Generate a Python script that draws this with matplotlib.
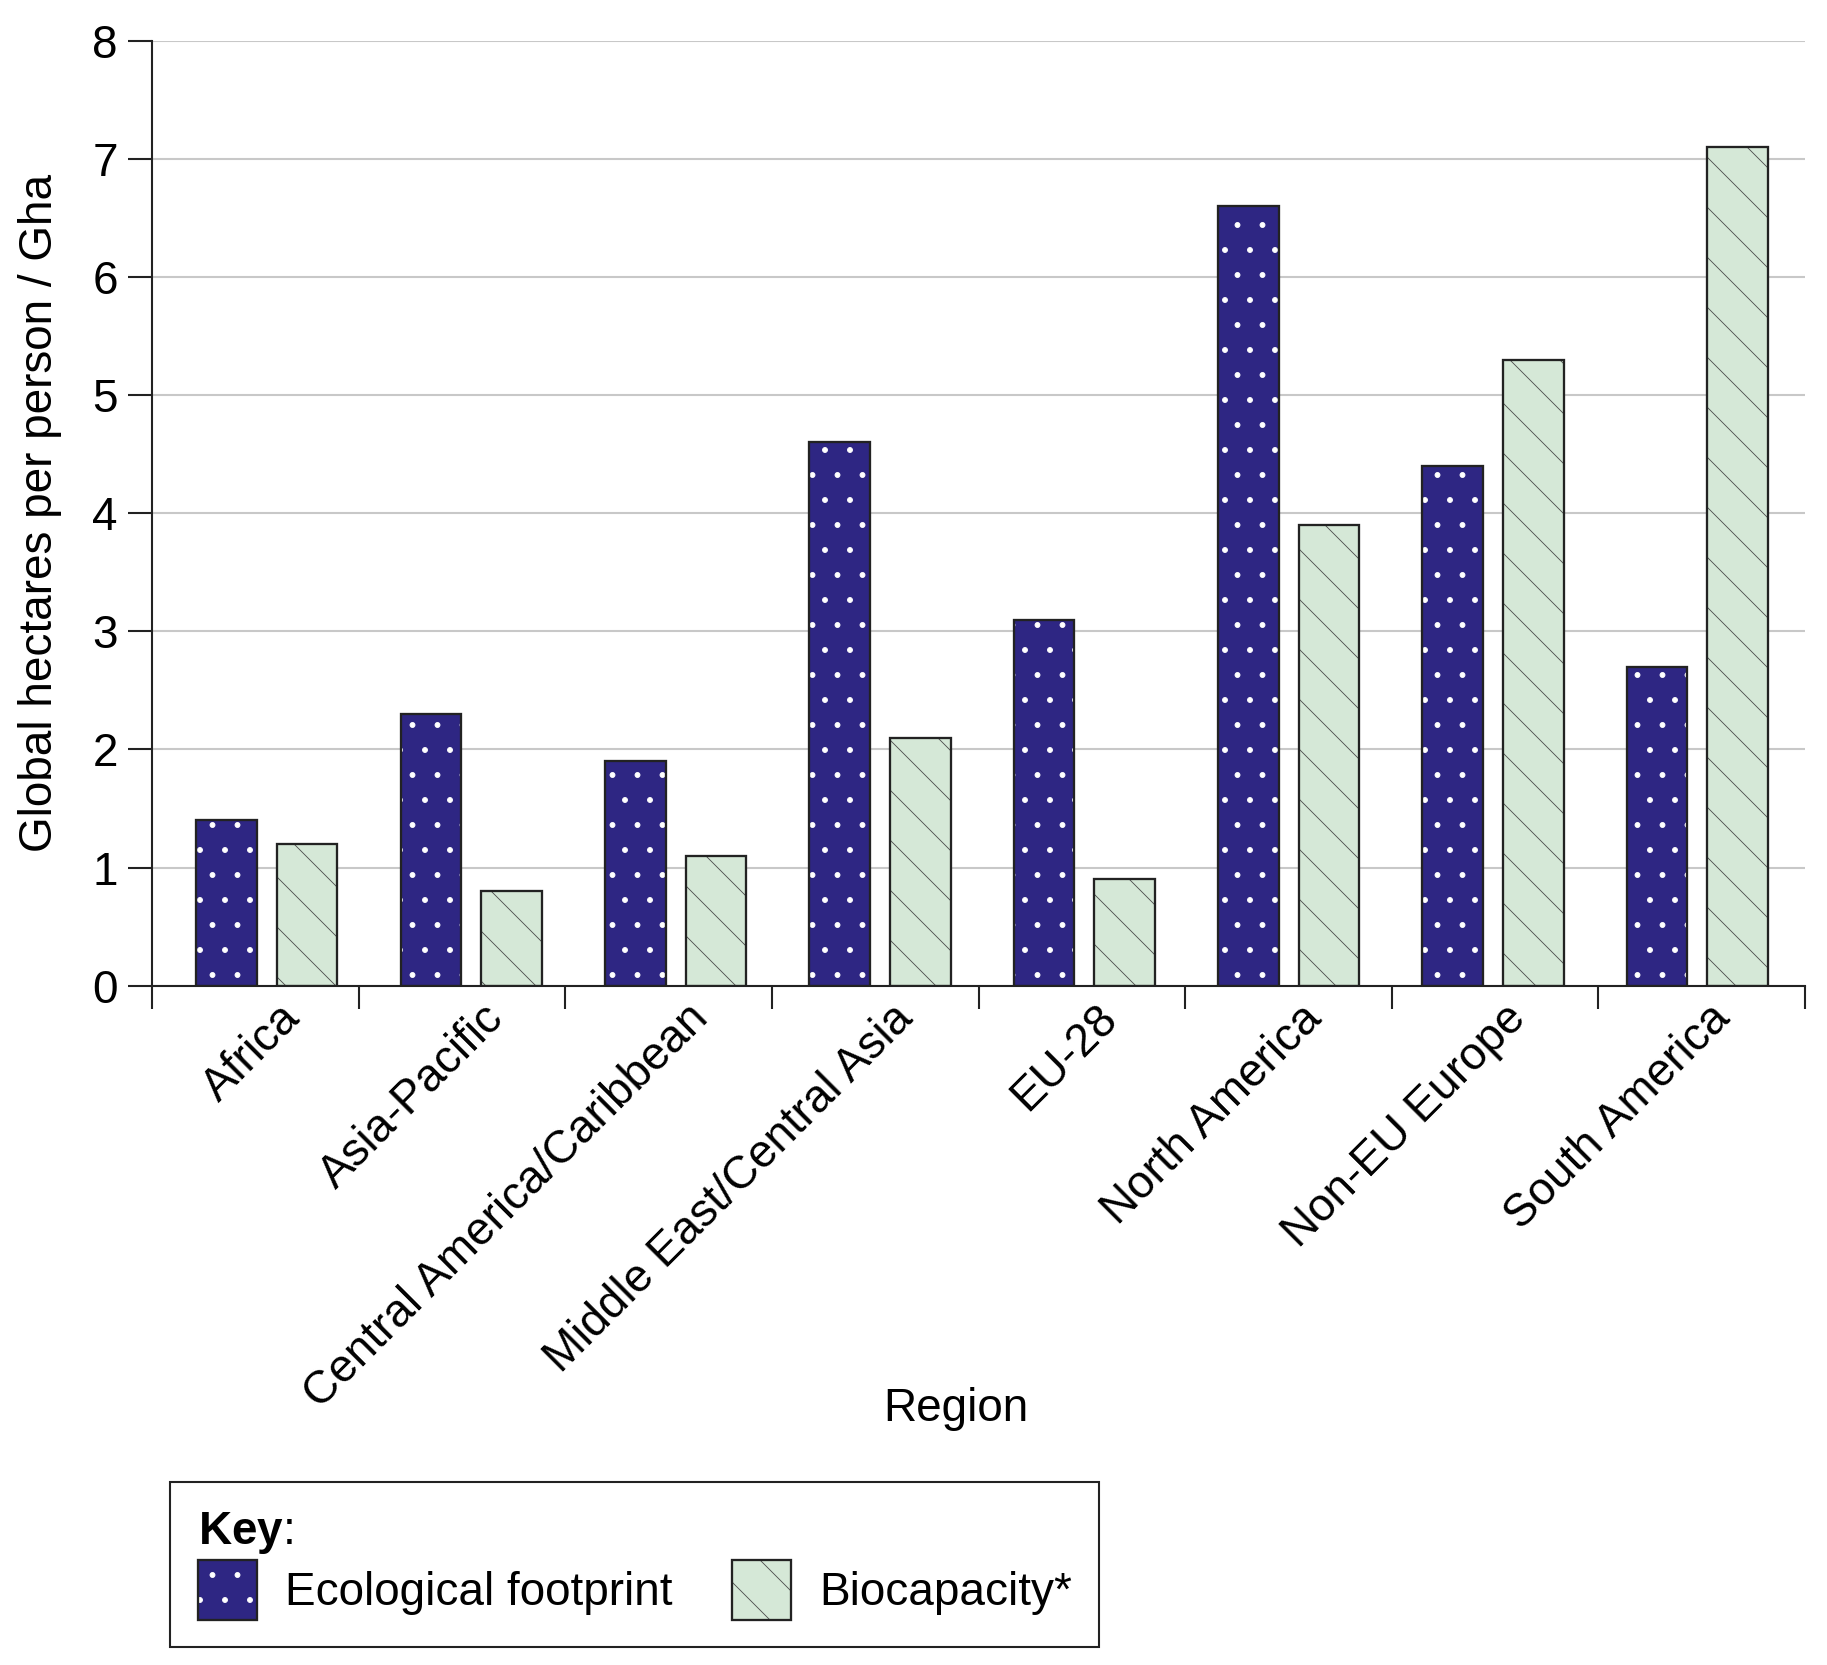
import numpy as np
import matplotlib
matplotlib.use("Agg")
import matplotlib.pyplot as plt
from matplotlib.ticker import FixedLocator

regions = ["Africa", "Asia-Pacific", "Central America/Caribbean",
           "Middle East/Central Asia", "EU-28", "North America",
           "Non-EU Europe", "South America"]
footprint = [1.4, 2.3, 1.9, 4.6, 3.1, 6.6, 4.4, 2.7]
biocapacity = [1.2, 0.8, 1.1, 2.1, 0.9, 3.9, 5.3, 7.1]
y_ticks = [0, 1, 2, 3, 4, 5, 6, 7, 8]

plt.rcParams['font.family'] = ['Liberation Sans', 'DejaVu Sans']
plt.rcParams['mathtext.fontset'] = 'custom'
plt.rcParams['mathtext.rm'] = 'Liberation Sans'
plt.rcParams['mathtext.bf'] = 'Liberation Sans:bold'
plt.rcParams['hatch.linewidth'] = 0.4

navy = '#2e2683'
green = '#d5e8d7'
edge = '#222222'
fs = 22

fig = plt.figure(figsize=(12.18, 11.1), dpi=150)
ax = fig.add_axes([0.0832, 0.408, 0.9048, 0.5675])

n = len(regions)
# bar groups sit on a slightly tighter pitch than the boundary ticks
x = 0.056 + 0.989 * np.arange(n)
off = 0.195
w = 0.293

# fills with hatch (hatch colour follows edgecolor), then black outlines on top
f1 = ax.bar(x - off, footprint, w, color=navy, edgecolor='white', linewidth=0, hatch='.')
f2 = ax.bar(x + off, biocapacity, w, color=green, edgecolor='#4a4a4a', linewidth=0, hatch='\\')
o1 = ax.bar(x - off, footprint, w, facecolor='none', edgecolor=edge, linewidth=1.1)
o2 = ax.bar(x + off, biocapacity, w, facecolor='none', edgecolor=edge, linewidth=1.1)

ax.set_xlim(-0.5, n - 0.5)
ax.set_ylim(0, 8)
ax.set_yticks(y_ticks)
ax.yaxis.grid(True, color='#c8c8c8', linewidth=1.0)
ax.set_axisbelow(True)

# boundary ticks on major, labels on minor (nudged a little right of the groups)
ax.xaxis.set_major_locator(FixedLocator(np.arange(n + 1) - 0.5))
ax.xaxis.set_minor_locator(FixedLocator(x + 0.052))
ax.set_xticklabels([], minor=False)
ax.set_xticklabels(regions, minor=True, rotation=45, ha='right', va='top',
                   rotation_mode='anchor', fontsize=fs)
ax.tick_params(axis='x', which='major', length=11, width=1, direction='out', color='#222')
ax.tick_params(axis='x', which='minor', length=0, pad=5)
ax.tick_params(axis='y', length=11.5, width=1, direction='out', color='#222',
               labelsize=fs, pad=5)

for s in ['top', 'right']:
    ax.spines[s].set_visible(False)
for s in ['left', 'bottom']:
    ax.spines[s].set_linewidth(1)
    ax.spines[s].set_color('#222')

ax.set_ylabel('Global hectares per person / Gha', fontsize=fs)
ax.yaxis.set_label_coords(-0.0544, 0.5)
ax.set_xlabel('Region', fontsize=fs, va='top')
ax.xaxis.set_label_coords(0.486, -0.425)

leg = fig.legend(handles=[(f1[0], o1[0]), (f2[0], o2[0])],
                 labels=['Ecological footprint', 'Biocapacity*'],
                 ncol=2, loc='upper left', bbox_to_anchor=(170 / 1827, 1 - 1482 / 1665),
                 borderaxespad=0, frameon=True, fancybox=False, framealpha=1,
                 edgecolor='#222', title=r'$\mathbf{Key}$:', alignment='left',
                 fontsize=fs, title_fontsize=fs, handlelength=1.3, handleheight=1.62,
                 handletextpad=0.6, columnspacing=1.3, borderpad=0.6,
                 labelspacing=0.1)
leg.get_frame().set_linewidth(1)

fig.savefig('out.png', dpi=150)
